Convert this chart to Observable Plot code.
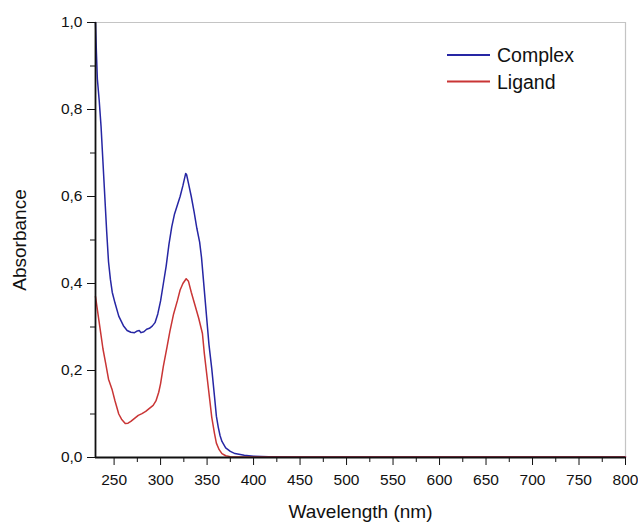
<!DOCTYPE html>
<html>
<head>
<meta charset="utf-8">
<script src="https://cdn.jsdelivr.net/npm/d3@7"></script>
<script src="https://cdn.jsdelivr.net/npm/@observablehq/plot@0.6"></script>
<style>
  html, body { margin: 0; padding: 0; background: #fff; }
  #wrap { position: relative; width: 638px; height: 524px; font-family: "Liberation Sans", Arial, sans-serif; }
</style>
</head>
<body>
<div id="wrap"></div>
<script>
// Wavelength (nm) and absorbance values
const complexWavelength = [230, 231, 232, 234, 236, 238, 240, 242, 244, 246, 248, 251, 255, 260, 264, 268, 272, 275, 277, 279, 282, 285, 288, 291, 294, 297, 300, 303, 306, 309, 312, 315, 318, 321, 324, 327, 328, 330, 333, 336, 339, 342, 344, 346, 348, 350, 352, 355, 358, 360, 362, 364, 366, 370, 375, 380, 390, 400, 416, 450, 500, 600, 700, 800];
const complexAbs = [1.0, 0.93, 0.87, 0.82, 0.76, 0.68, 0.60, 0.52, 0.45, 0.41, 0.38, 0.355, 0.325, 0.303, 0.292, 0.288, 0.287, 0.291, 0.292, 0.287, 0.289, 0.295, 0.297, 0.302, 0.31, 0.33, 0.36, 0.40, 0.44, 0.49, 0.53, 0.56, 0.58, 0.60, 0.625, 0.653, 0.65, 0.63, 0.60, 0.565, 0.527, 0.495, 0.46, 0.41, 0.36, 0.31, 0.26, 0.205, 0.14, 0.095, 0.07, 0.05, 0.037, 0.022, 0.014, 0.009, 0.005, 0.003, 0.002, 0.001, 0.001, 0.001, 0.001, 0.001];

const ligandWavelength = [230, 232, 234, 236, 238, 241, 244, 248, 251, 255, 258, 262, 265, 268, 272, 276, 280, 284, 288, 292, 295, 298, 300, 303, 307, 310, 314, 318, 321, 324, 327.5, 330, 333, 337, 341, 345, 347, 350, 353, 355, 358, 360, 363, 366, 370, 375, 400, 500, 600, 700, 800];
const ligandAbs = [0.37, 0.34, 0.31, 0.28, 0.25, 0.216, 0.18, 0.155, 0.13, 0.10, 0.088, 0.078, 0.079, 0.083, 0.09, 0.097, 0.101, 0.106, 0.113, 0.12, 0.13, 0.15, 0.17, 0.21, 0.255, 0.29, 0.33, 0.36, 0.385, 0.40, 0.411, 0.405, 0.38, 0.35, 0.32, 0.285, 0.24, 0.185, 0.13, 0.093, 0.055, 0.033, 0.018, 0.009, 0.004, 0.002, 0.001, 0.001, 0.001, 0.001, 0.001];

const seriesNames = ["Complex", "Ligand"];
const seriesColors = ["#2626a4", "#c93535"];

const xMajorTicks = [250, 300, 350, 400, 450, 500, 550, 600, 650, 700, 750, 800];
const xMinorTicks = [275, 325, 375, 425, 475, 525, 575, 625, 675, 725, 775];
const yMajorTicks = [0, 0.2, 0.4, 0.6, 0.8, 1.0];
const yMinorTicks = [0.1, 0.3, 0.5, 0.7, 0.9];

const xTitle = "Wavelength (nm)";
const yTitle = "Absorbance";

const complex = complexWavelength.map((w, i) => ({w, a: complexAbs[i]}));
const ligand = ligandWavelength.map((w, i) => ({w, a: ligandAbs[i]}));

const fmtY = d => d.toFixed(1).replace(".", ",");

const chart = Plot.plot({
  width: 638,
  height: 524,
  marginLeft: 95,
  marginRight: 13,
  marginTop: 22,
  marginBottom: 67,
  style: {fontFamily: "'Liberation Sans', Arial, sans-serif", fontSize: "15.5px", background: "white", color: "#111"},
  x: {domain: [230, 800]},
  y: {domain: [0, 1]},
  marks: [
    Plot.ruleY([1], {stroke: "#c4c4c4", strokeWidth: 1.2}),
    Plot.ruleX([800], {stroke: "#c4c4c4", strokeWidth: 1.2}),
    Plot.line(complex, {x: "w", y: "a", stroke: seriesColors[0], strokeWidth: 1.5}),
    Plot.line(ligand, {x: "w", y: "a", stroke: seriesColors[1], strokeWidth: 1.5}),
    Plot.axisX({ticks: xMajorTicks, tickSize: 8, tickPadding: 8, tickFormat: d => String(d), label: null}),
    Plot.axisX({ticks: xMinorTicks, tickSize: 5, tickFormat: () => "", label: null}),
    Plot.axisY({ticks: yMajorTicks, tickSize: 8, tickPadding: 5, tickFormat: fmtY, label: null}),
    Plot.axisY({ticks: yMinorTicks, tickSize: 5, tickFormat: () => "", label: null}),
    Plot.ruleY([0], {stroke: "#111", strokeWidth: 1.8}),
    Plot.ruleX([230], {stroke: "#111", strokeWidth: 1.8}),
    Plot.text([xTitle], {text: d => d, frameAnchor: "bottom", textAnchor: "middle", lineAnchor: "top", dy: 47, fontSize: 19}),
    Plot.text([yTitle], {text: d => d, frameAnchor: "left", textAnchor: "middle", rotate: -90, dx: -76, fontSize: 19})
  ]
});

const wrap = document.getElementById("wrap");
wrap.appendChild(chart);

// Legend drawn inside the SVG
const lg = d3.select(chart).append("g").attr("transform", "translate(447,55)");
seriesNames.forEach((name, i) => {
  const row = lg.append("g").attr("transform", `translate(0,${i * 26.5})`);
  row.append("line").attr("x1", 0).attr("x2", 43).attr("y1", 0).attr("y2", 0)
    .attr("stroke", seriesColors[i]).attr("stroke-width", 2);
  row.append("text").attr("x", 50).attr("y", 7).attr("text-anchor", "start")
    .attr("font-size", 19.5).attr("fill", "#111").text(name);
});
</script>
</body>
</html>
